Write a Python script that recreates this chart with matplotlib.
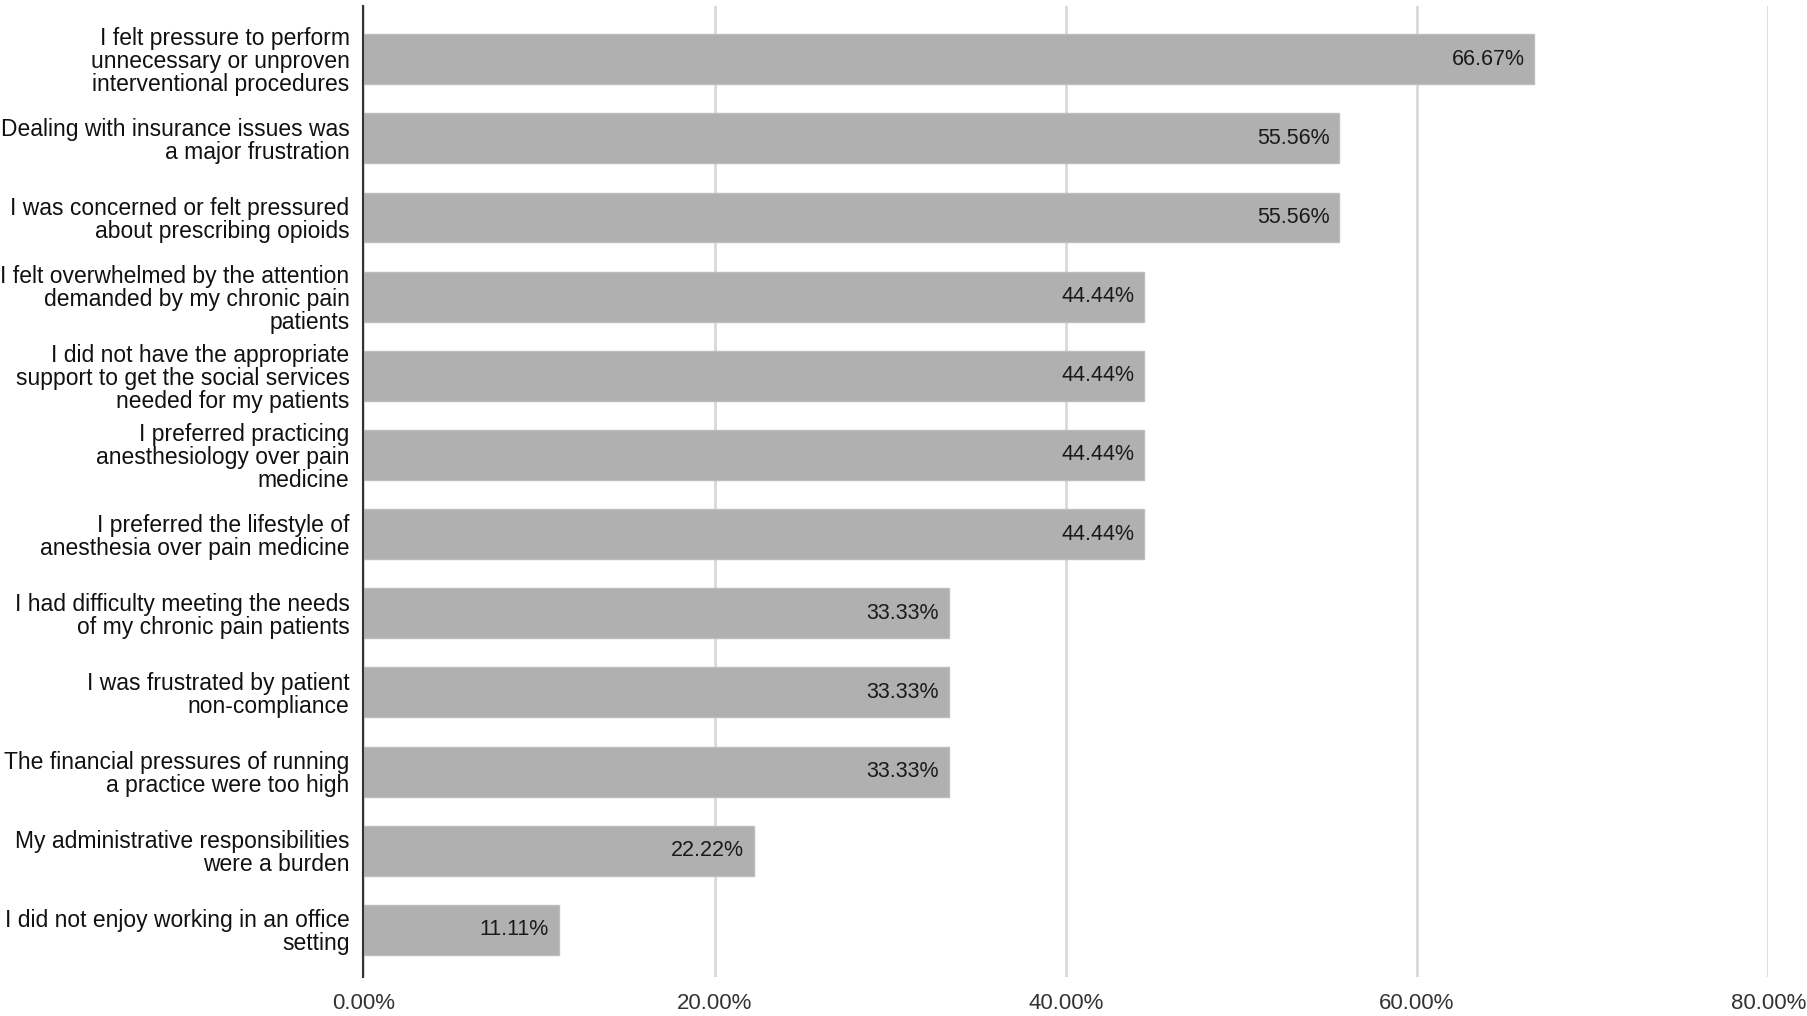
import matplotlib.pyplot as plt
import numpy as np

plt.rcParams['font.family'] = ['Liberation Sans', 'DejaVu Sans']

# Survey reasons (top to bottom) and share of respondents (%)
reasons = [
    "I felt pressure to perform\nunnecessary or unproven\ninterventional procedures",
    "Dealing with insurance issues was\na major frustration",
    "I was concerned or felt pressured\nabout prescribing opioids",
    "I felt overwhelmed by the attention\ndemanded by my chronic pain\npatients",
    "I did not have the appropriate\nsupport to get the social services\nneeded for my patients",
    "I preferred practicing\nanesthesiology over pain\nmedicine",
    "I preferred the lifestyle of\nanesthesia over pain medicine",
    "I had difficulty meeting the needs\nof my chronic pain patients",
    "I was frustrated by patient\nnon-compliance",
    "The financial pressures of running\na practice were too high",
    "My administrative responsibilities\nwere a burden",
    "I did not enjoy working in an office\nsetting",
]
percent = [66.67, 55.56, 55.56, 44.44, 44.44, 44.44, 44.44,
           33.33, 33.33, 33.33, 22.22, 11.11]
xticks = [0, 20, 40, 60, 80]

fig = plt.figure(figsize=(18.08, 10.16), dpi=100)
ax = fig.add_axes([0.201, 0.038, 0.777, 0.956])

y = np.arange(len(reasons))
bars = ax.barh(y, percent, height=0.63, color="#b0b0b0",
               edgecolor="#bdbdbd", linewidth=1.0, zorder=3)

for rect, v in zip(bars, percent):
    ax.annotate(f"{v:.2f}%", xy=(v, rect.get_y() + rect.get_height() / 2),
                xytext=(-7, 0), textcoords="offset points",
                ha="right", va="center", fontsize=15.5, color="#1a1a1a",
                zorder=4)

ax.set_xlim(0, 80)
ax.set_ylim(len(reasons) - 0.4, -0.67)
ax.set_xticks(xticks)
ax.set_xticklabels([f"{t:.2f}%" for t in xticks], fontsize=16, color="#333333")
ax.set_yticks(y)
ax.set_yticklabels(reasons, fontsize=16.5, color="#111111", linespacing=1.0)
ax.tick_params(axis="both", length=0)
ax.tick_params(axis="y", pad=10)
ax.tick_params(axis="x", pad=11)

ax.grid(axis="x", color="#d9d9d9", linewidth=2, zorder=0)
for s in ["top", "right", "bottom"]:
    ax.spines[s].set_visible(False)
ax.spines["left"].set_color("#333333")
ax.spines["left"].set_linewidth(1.5)
ax.spines["left"].set_zorder(5)

fig.savefig("out.png", dpi=100)
